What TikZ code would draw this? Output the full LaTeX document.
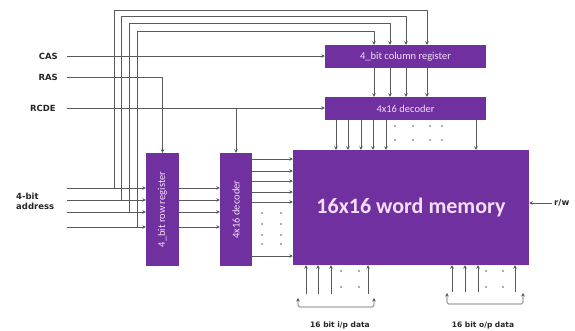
\documentclass[tikz,border=0pt]{standalone}
\usepackage{fontspec}
\setmainfont{DejaVu Sans}
\newfontfamily\boxfont{Carlito}
\usetikzlibrary{positioning, arrows.meta}
\definecolor{regpurple}{HTML}{7030A0}
\definecolor{wirecol}{HTML}{5A5A5A}
\definecolor{boxtext}{HTML}{F3DDF8}
\begin{document}
\begin{tikzpicture}[x=1pt, y=-1pt, line join=round, >={Stealth[length=3.5pt, width=3.5pt]}, font=\bfseries\fontsize{8.5}{10}\selectfont,
	blk/.style={fill=regpurple, draw=none, text=boxtext, inner sep=0pt, font=\boxfont\fontsize{10.5}{12}\selectfont},
	wire/.style={draw=wirecol, line width=0.65pt},
	sig/.style={inner sep=0pt, text=black!85}]
	\useasboundingbox (0,0) rectangle (575,331);
	% blocks
	\node[blk, minimum width=161pt, minimum height=23pt] (colreg) at (405.5,56.5) {4\_bit column register};
	\node[blk, minimum width=161pt, minimum height=23pt] (dechor) at (405.5,108.5) {4x16 decoder};
	\node[blk, minimum width=236pt, minimum height=115pt, font=\boxfont\bfseries\fontsize{22}{24}\selectfont] (mem) at (411,207.5) {16x16 word memory};
	\node[blk, minimum width=33pt, minimum height=113pt] (rowreg) at (162.5,209.5) {\rotatebox{90}{4\_bit row register}};
	\node[blk, minimum width=32pt, minimum height=113pt] (decver) at (236,209.5) {\rotatebox{90}{4x16 decoder}};
	% control signals
	\node[sig, anchor=east] (cas) at (58,56) {CAS};
	\node[sig, anchor=east] (ras) at (58,77) {RAS};
	\node[sig, anchor=east] (rcde) at (56,108) {RCDE};
	\draw[wire, ->] ([xshift=9pt]cas.east) -- (colreg.west |- cas);
	\draw[wire, ->] ([xshift=9pt]ras.east) -| (rowreg.north);
	\draw[wire, ->] ([xshift=11pt]rcde.east) -- (dechor.west |- rcde);
	\draw[wire, ->] (decver.north |- rcde) -- (decver.north);
	% 4-bit address
	\node[sig, align=left, anchor=west] (addr) at (16,201) {4-bit\\address};
	\foreach \y/\xv/\yt/\xt [count=\i] in {188/114/10/427, 200/121/16/406, 212/129/23/390, 227/137/31/374} {
		\coordinate (adr\i) at (67,\y);
		\draw[wire, ->] (adr\i) -- (rowreg.west |- adr\i);
		\draw[wire, ->] (adr\i -| \xv,0) |- (\xt,\yt) -- (colreg.north -| \xt,0);
		\draw[wire, ->] (colreg.south -| \xt,0) -- (dechor.north -| \xt,0);
		\draw[wire, ->] (rowreg.east |- adr\i) -- (decver.west |- adr\i);
	}
	% decoders to memory
	\foreach \x in {336,348,361,373,386,476}
		\draw[wire, ->] (dechor.south -| \x,0) -- (mem.north -| \x,0);
	\foreach \y in {159,171,181,192,202,256}
		\draw[wire, ->] (decver.east |- 0,\y) -- (mem.west |- 0,\y);
	\foreach \x in {395,413,430,442}
		\foreach \y in {126,140}
			\fill[wirecol] (\x,\y) circle (0.9pt);
	\foreach \x in {262,281}
		\foreach \y in {213,224,235,244}
			\fill[wirecol] (\x,\y) circle (0.9pt);
	% read/write
	\node[sig, anchor=west] (rw) at (554,203) {r/w};
	\draw[wire, ->] ([xshift=-2pt]rw.west) -- (mem.east |- rw);
	% data buses
	\node[sig, font=\bfseries\fontsize{7.5}{9}\selectfont] (din) at (340,325) {16 bit i/p data};
	\node[sig, font=\bfseries\fontsize{7.5}{9}\selectfont] (dout) at (483,325) {16 bit o/p data};
	\foreach \x in {306,318,331,368}
		\draw[wire, ->] (\x,294) -- (mem.south -| \x,0);
	\foreach \x in {452,465,478,515}
		\draw[wire, ->] (\x,292) -- (mem.south -| \x,0);
	\foreach \x in {341,359,486,503}
		\foreach \y in {271,287}
			\fill[wirecol] (\x,\y) circle (0.9pt);
	\draw[wire, <->, rounded corners=1.5pt] (298,298) -- (298,307) -- (374,307) -- (374,298);
	\draw[wire, <->, rounded corners=1.5pt] (447,293) -- (447,304) -- (523,304) -- (523,293);
\end{tikzpicture}
\end{document}
